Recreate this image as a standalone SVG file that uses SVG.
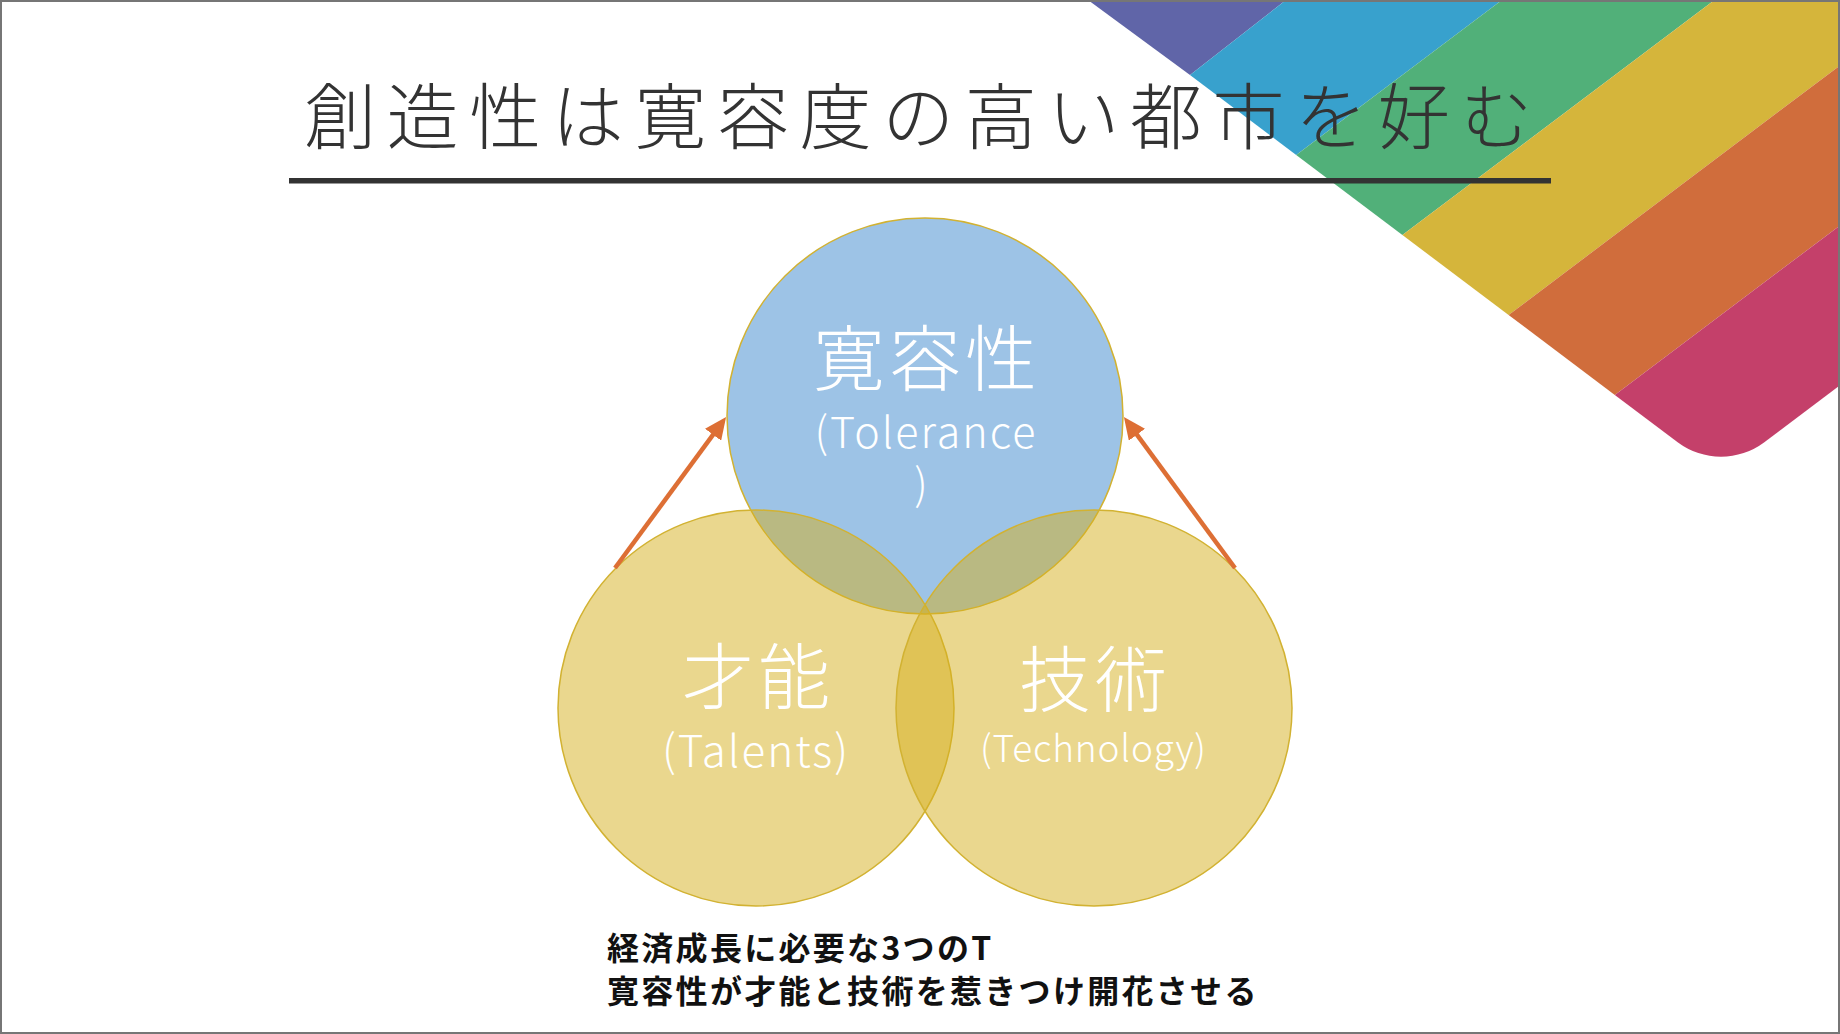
<svg xmlns="http://www.w3.org/2000/svg" width="1840" height="1034" viewBox="0 0 1840 1034">
  <style>
    .jp { font-family: "Noto Sans CJK JP", "Noto Sans", sans-serif; }
    .title { font-size: 72px; font-weight: 300; fill: #333333; letter-spacing: 10.6px; }
    .big { font-size: 72px; font-weight: 300; fill: #ffffff; letter-spacing: 4px; }
    .sub { font-weight: 300; fill: #ffffff; }
    .note { font-size: 32px; font-weight: 700; fill: #111111; letter-spacing: 2.3px; }
    .yel { fill: #D6AF1E; fill-opacity: 0.5; stroke: #D2B232; stroke-width: 1.5; }
    .blu { fill: #9DC3E6; stroke: #D2B232; stroke-width: 1.5; }
    .arrow { stroke: #DD6F35; stroke-width: 4.5; fill: none; marker-end: url(#ah); }
  </style>
  <defs>
    <marker id="ah" markerUnits="userSpaceOnUse" markerWidth="22" markerHeight="20" viewBox="0 0 22 20" refX="10" refY="10" orient="auto">
      <path d="M0,0 L22,10 L0,20 z" fill="#DD6F35"/>
    </marker>
  </defs>

  <rect x="0" y="0" width="1840" height="1034" fill="#ffffff"/>

  <g id="rainbow">
    <polygon points="1088,0 1190,75 1286,0" fill="#6065A8"/>
    <polygon points="1190,75 1296.2,155 1502,0 1286,0" fill="#38A1CD"/>
    <polygon points="1296.2,155 1402.4,235 1714.5,0 1502,0" fill="#51B079"/>
    <polygon points="1402.4,235 1508.6,315 1840,65.4 1840,0 1714.5,0" fill="#D5B53B"/>
    <polygon points="1508.6,315 1614.8,395 1840,225.4 1840,65.4" fill="#D06D3C"/>
    <path d="M1614.8,395 L1678,442.5 A72,72 0 0 0 1764,442.5 L1840,385.3 L1840,225.4 Z" fill="#C4406A"/>
  </g>

  <g id="title">
    <text class="jp title" x="304" y="143">創造性は寛容度の高い都市を好む</text>
    <rect x="289" y="178" width="1262" height="5.5" fill="#333333"/>
  </g>

  <g id="tolerance">
    <circle class="blu" cx="925" cy="416" r="198"/>
  </g>
  <g id="talents">
    <circle class="yel" cx="756" cy="708" r="198"/>
  </g>
  <g id="technology">
    <circle class="yel" cx="1094" cy="708" r="198"/>
  </g>

  <g id="labels" class="jp" text-anchor="middle">
    <text class="big" x="927" y="385">寛容性</text>
    <text class="sub" x="925" y="448" font-size="43" textLength="221">(Tolerance</text>
    <text class="sub" x="921" y="500" font-size="43">)</text>
    <text class="big" x="758" y="703">才能</text>
    <text class="sub" x="755" y="767" font-size="44" textLength="186">(Talents)</text>
    <text class="big" x="1095" y="706">技術</text>
    <text class="sub" x="1093" y="762" font-size="37" textLength="226">(Technology)</text>
  </g>

  <g id="connectors">
    <line class="arrow" x1="615" y1="568" x2="719" y2="426.7"/>
    <line class="arrow" x1="1235" y1="568" x2="1131" y2="426.7"/>
  </g>

  <g id="caption">
    <text class="jp note" x="607" y="960">経済成長に必要な3つのT</text>
    <text class="jp note" x="607" y="1003">寛容性が才能と技術を惹きつけ開花させる</text>
  </g>

  <rect x="1" y="1" width="1838" height="1032" fill="none" stroke="#767676" stroke-width="2"/>
</svg>
